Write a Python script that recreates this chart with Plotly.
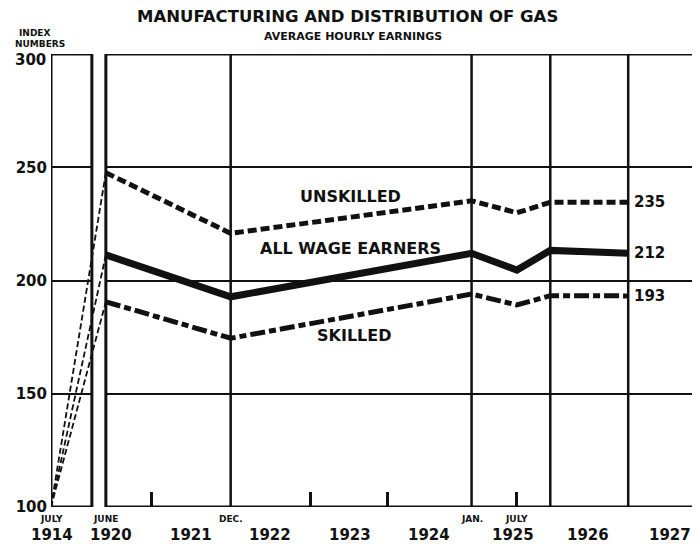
import plotly.graph_objects as go

# ---------------- DATA ----------------
periods = ["1914-07", "1920-06", "1921-12", "1925-01", "1925-07", "1926-01", "1926-12"]
period_years = [1914.54, 1920.43, 1922.0, 1925.03, 1925.6, 1926.02, 1927.0]   # time in years
unskilled = [100, 247.6, 220.8, 235.2, 229.9, 234.5, 234.5]
all_wage = [100, 211.3, 192.8, 212.0, 204.6, 213.3, 212.0]
skilled = [100, 190.6, 174.5, 194.0, 189.2, 193.3, 193.2]
end_labels = ["235", "212", "193"]
series_names = ["UNSKILLED", "ALL WAGE EARNERS", "SKILLED"]
y_ticks = [100, 150, 200, 250, 300]
y_ticktext = ["100", "150", "200", "250", ""]
year_labels = ["1921", "1922", "1923", "1924", "1925", "1926", "1927"]
year_mids = [1921.5, 1922.5, 1923.5, 1924.5, 1925.55, 1926.5, 1927.52]
month_labels = ["JULY", "JUNE", "DEC.", "JAN.", "JULY"]
month_idx = [0, 1, 2, 3, 4]
minor_ticks = [1921.0, 1923.0, 1923.97, 1925.6]
full_lines = [1922.0, 1925.03, 1926.02, 1927.0]

# ---------------- broken time axis ----------------
X_MIN, X_MAX = 1919.74, 1927.903
BREAK_END = 1920.254          # right edge of the 1914 panel
MAIN_START = 1920.43          # left edge of the main panel


def axis_pos(t):
    # years before 1920 are shown in the small left panel
    return X_MIN if t < 1920 else t


xs = [axis_pos(t) for t in period_years]

FONT = "DejaVu Sans"
BLACK = "#111111"

fig = go.Figure()

styles = [
    dict(width=5, dash="9px,4px"),
    dict(width=7, dash="solid"),
    dict(width=5, dash="15px,4px,7px,4px"),
]
for vals, st in zip([unskilled, all_wage, skilled], styles):
    # 1914 -> 1920 connector, thin dashed
    fig.add_trace(go.Scatter(x=xs[:2], y=vals[:2], mode="lines",
                             line=dict(color=BLACK, width=1.8, dash="6px,3px"),
                             showlegend=False, hoverinfo="skip"))
    fig.add_trace(go.Scatter(x=xs[1:], y=vals[1:], mode="lines",
                             line=dict(color=BLACK, width=st["width"], dash=st["dash"]),
                             showlegend=False))

shapes = []
# white gap between the two panels (covers gridlines)
shapes.append(dict(type="rect", xref="x", yref="y", x0=BREAK_END, x1=MAIN_START, y0=95, y1=305,
                   fillcolor="white", line=dict(width=0), layer="between"))
LW = 3
# 1914 panel frame
shapes.append(dict(type="rect", xref="x", yref="y", x0=X_MIN, x1=BREAK_END, y0=100, y1=300,
                   line=dict(color=BLACK, width=LW), layer="between"))
# main panel frame (top, bottom, left)
for yv in (100, 300):
    shapes.append(dict(type="line", xref="x", yref="y", x0=MAIN_START, x1=X_MAX + 0.1, y0=yv, y1=yv,
                       line=dict(color=BLACK, width=LW), layer="between"))
shapes.append(dict(type="line", xref="x", yref="y", x0=MAIN_START, x1=MAIN_START, y0=100, y1=300,
                   line=dict(color=BLACK, width=LW), layer="between"))
for xv in full_lines:
    shapes.append(dict(type="line", xref="x", yref="y", x0=xv, x1=xv, y0=100, y1=300,
                       line=dict(color=BLACK, width=2.5), layer="between"))
fig.update_layout(shapes=shapes)


def px_x(px):
    return (px - 49) / 651


def px_y(py):
    return (507 - py) / 453


ann = []
# title + subtitle
ann.append(dict(text="<b>MANUFACTURING AND DISTRIBUTION OF GAS</b>", xref="paper", yref="paper",
                x=px_x(346), y=px_y(16), showarrow=False,
                font=dict(family=FONT, size=16.5, color=BLACK), xanchor="center", yanchor="middle"))
ann.append(dict(text="<b>AVERAGE HOURLY EARNINGS</b>", xref="paper", yref="paper",
                x=px_x(352), y=px_y(36), showarrow=False,
                font=dict(family=FONT, size=11, color=BLACK), xanchor="center", yanchor="middle"))
ann.append(dict(text="<b>INDEX</b>", xref="paper", yref="paper",
                x=px_x(33), y=px_y(33), showarrow=False,
                font=dict(family=FONT, size=9, color=BLACK), xanchor="center", yanchor="middle"))
ann.append(dict(text="<b>NUMBERS</b>", xref="paper", yref="paper",
                x=px_x(38), y=px_y(44), showarrow=False,
                font=dict(family=FONT, size=9, color=BLACK), xanchor="center", yanchor="middle"))
# top tick label, drawn just under the frame line as in the original
ann.append(dict(text="<b>300</b>", x=X_MIN, y=y_ticks[-1], xanchor="right", xshift=-3, yshift=-6,
                showarrow=False, font=dict(family=FONT, size=15, color=BLACK)))

# series labels inside the plot
ann.append(dict(text="<b>" + series_names[0] + "</b>", x=1923.51, y=237.3, showarrow=False,
                font=dict(family=FONT, size=16, color=BLACK)))
ann.append(dict(text="<b>" + series_names[1] + "</b>", x=1923.51, y=214.0, showarrow=False,
                font=dict(family=FONT, size=16, color=BLACK)))
ann.append(dict(text="<b>" + series_names[2] + "</b>", x=1923.55, y=175.6, showarrow=False,
                font=dict(family=FONT, size=16, color=BLACK)))

# end-value labels
for lab, vals in zip(end_labels, [unskilled, all_wage, skilled]):
    ann.append(dict(text="<b>" + lab + "</b>", x=xs[-1], y=vals[-1], xanchor="left", xshift=4,
                    showarrow=False, font=dict(family=FONT, size=15, color=BLACK)))

# month labels under the axis
for lab, i in zip(month_labels, month_idx):
    ann.append(dict(text="<b>" + lab + "</b>", x=xs[i], y=0, xref="x", yref="paper",
                    yanchor="middle", yshift=-12, showarrow=False,
                    font=dict(family=FONT, size=9, color=BLACK)))
# year labels
year_pos = [(xs[0] + 0.01, "1914"), (xs[1] + 0.07, "1920")] + list(zip(year_mids, year_labels))
for xv, lab in year_pos:
    ann.append(dict(text="<b>" + lab + "</b>", x=xv, y=0, xref="x", yref="paper",
                    yanchor="middle", yshift=-28, showarrow=False,
                    font=dict(family=FONT, size=15, color=BLACK)))
fig.update_layout(annotations=ann)

fig.update_xaxes(range=[X_MIN, X_MAX], showgrid=False, zeroline=False, showline=False,
                 tickvals=minor_ticks, ticks="inside", ticklen=15, tickwidth=3, tickcolor=BLACK,
                 showticklabels=False)
fig.update_yaxes(range=[100, 300], tickvals=y_ticks, ticktext=y_ticktext,
                 showgrid=True, gridcolor=BLACK, gridwidth=2,
                 zeroline=False, showline=False, ticks="", ticklabelstandoff=3,
                 tickfont=dict(family=FONT, size=15, color=BLACK, weight="bold"))

# the page adds an 8px body margin, so the figure is laid out 8px up/left of the target
fig.update_layout(width=700, height=548, margin=dict(l=41, r=8, t=46, b=49),
                  plot_bgcolor="white", paper_bgcolor="white", showlegend=False)

fig.write_html("out.html")
